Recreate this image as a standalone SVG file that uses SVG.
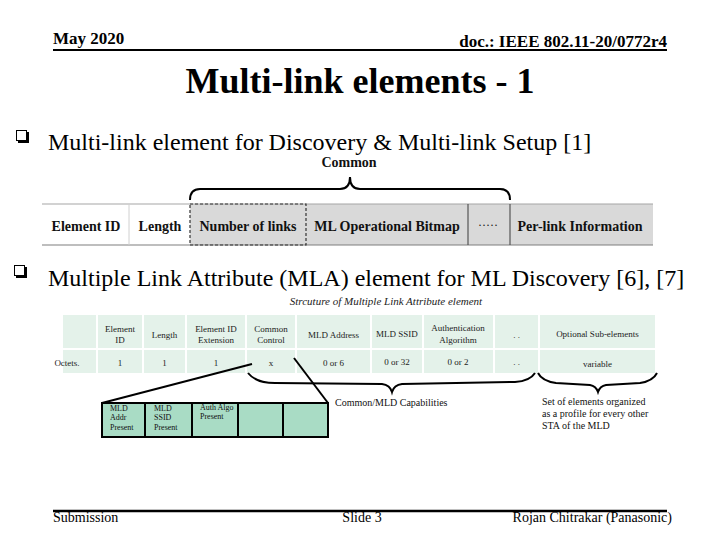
<svg xmlns="http://www.w3.org/2000/svg" width="720" height="540" viewBox="0 0 720 540">
<style>
.hdr{font-family:"Liberation Serif","Times New Roman",serif;font-weight:bold;font-size:17px;fill:#000}
.ttl{font-family:"Liberation Serif","Times New Roman",serif;font-weight:bold;font-size:36px;fill:#000}
.bul{font-family:"Liberation Serif","Times New Roman",serif;font-size:24px;fill:#000}
.t1{font-family:"Liberation Serif","Times New Roman",serif;font-weight:bold;font-size:14px;fill:#111;text-anchor:middle}
.t2{font-family:"Liberation Serif","Times New Roman",serif;font-size:9px;fill:#222;text-anchor:middle}
.sb{font-family:"Liberation Serif","Times New Roman",serif;font-size:8px;fill:#111}
.lbl{font-family:"Liberation Serif","Times New Roman",serif;font-size:10px;fill:#111}
.cap{font-family:"Liberation Serif","Times New Roman",serif;font-style:italic;font-size:11px;fill:#222}
.ftr{font-family:"Liberation Serif","Times New Roman",serif;font-size:14px;fill:#000}
.cmn{font-family:"Liberation Serif","Times New Roman",serif;font-weight:bold;font-size:14px;fill:#111}
.c2{fill:#e4f2ea}
.gray{fill:#d9d9d9}
.sbox{fill:#a9dcc5;stroke:#000;stroke-width:2}
.conn{fill:none;stroke:#000;stroke-width:2}
</style>

<g id="header">
<text class="hdr" x="53" y="44">May 2020</text>
<text class="hdr" x="667" y="47" text-anchor="end">doc.: IEEE 802.11-20/0772r4</text>
<line x1="53" y1="50" x2="667" y2="50" stroke="#000" stroke-width="2"/>
</g>

<g id="title">
<text class="ttl" x="360" y="93" text-anchor="middle">Multi-link elements - 1</text>
</g>

<g id="bullet1">
<rect x="18" y="132" width="11" height="11" fill="#000"/>
<rect x="16.5" y="130.5" width="10" height="10" fill="#fff" stroke="#000" stroke-width="1"/>
<text class="bul" x="48" y="150">Multi-link element for Discovery &amp; Multi-link Setup [1]</text>
</g>

<g id="common-label">
<text class="cmn" x="349" y="167" text-anchor="middle">Common</text>
</g>

<g id="table1">
<rect x="42" y="204" width="148" height="41" fill="#fff"/>
<rect class="gray" x="190" y="204" width="463" height="41"/>
<line x1="42" y1="204" x2="653" y2="204" stroke="#a6a6a6" stroke-width="1.2"/>
<line x1="42" y1="245" x2="653" y2="245" stroke="#7f7f7f" stroke-width="1.2"/>
<line x1="129" y1="204" x2="129" y2="245" stroke="#d0d0d0" stroke-width="1"/>
<rect x="190" y="204" width="116" height="41" fill="none" stroke="#333" stroke-width="1.2" stroke-dasharray="3,2"/>
<line x1="468" y1="204" x2="468" y2="245" stroke="#555" stroke-width="1.2"/>
<line x1="510" y1="204" x2="510" y2="245" stroke="#555" stroke-width="1.2"/>
<g id="t1-element-id"><text class="t1" x="86" y="231">Element ID</text></g>
<g id="t1-length"><text class="t1" x="160" y="231">Length</text></g>
<g id="t1-number-of-links"><text class="t1" x="248" y="231">Number of links</text></g>
<g id="t1-ml-bitmap"><text class="t1" x="387" y="231">ML Operational Bitmap</text></g>
<g id="t1-dots"><text class="t1" x="488" y="229" style="font-weight:normal;font-size:12px">·····</text></g>
<g id="t1-per-link"><text class="t1" x="580" y="231">Per-link Information</text></g>
</g>

<g id="bullet2">
<rect x="16" y="267" width="11" height="11" fill="#000"/>
<rect x="14.5" y="265.5" width="10" height="10" fill="#fff" stroke="#000" stroke-width="1"/>
<text class="bul" x="48" y="286">Multiple Link Attribute (MLA) element for ML Discovery [6], [7]</text>
</g>

<g id="caption">
<text class="cap" x="386" y="305" text-anchor="middle">Strcuture of Multiple Link Attribute element</text>
</g>

<g id="table2">
<g id="t2-c0"><rect class="c2" x="63" y="315" width="33" height="33"/><rect class="c2" x="63" y="350" width="33" height="23"/><text class="t2" x="67" y="366" text-anchor="start">Octets.</text></g>
<g id="t2-c1"><rect class="c2" x="98" y="315" width="44" height="33"/><rect class="c2" x="98" y="350" width="44" height="23"/><text class="t2" x="120" y="332">Element</text><text class="t2" x="120" y="343">ID</text><text class="t2" x="120" y="366">1</text></g>
<g id="t2-c2"><rect class="c2" x="144" y="315" width="41" height="33"/><rect class="c2" x="144" y="350" width="41" height="23"/><text class="t2" x="164.5" y="338">Length</text><text class="t2" x="164.5" y="366">1</text></g>
<g id="t2-c3"><rect class="c2" x="187" y="315" width="58" height="33"/><rect class="c2" x="187" y="350" width="58" height="23"/><text class="t2" x="216" y="332">Element ID</text><text class="t2" x="216" y="343">Extension</text><text class="t2" x="216" y="366">1</text></g>
<g id="t2-c4"><rect class="c2" x="247" y="315" width="48" height="33"/><rect class="c2" x="247" y="350" width="48" height="23"/><text class="t2" x="271" y="332">Common</text><text class="t2" x="271" y="343">Control</text><text class="t2" x="271" y="366">x</text></g>
<g id="t2-c5"><rect class="c2" x="297" y="315" width="73" height="33"/><rect class="c2" x="297" y="350" width="73" height="23"/><text class="t2" x="333.5" y="338">MLD Address</text><text class="t2" x="333.5" y="366">0 or 6</text></g>
<g id="t2-c6"><rect class="c2" x="372" y="315" width="50" height="33"/><rect class="c2" x="372" y="350" width="50" height="23"/><text class="t2" x="397" y="337">MLD SSID</text><text class="t2" x="397" y="365">0 or 32</text></g>
<g id="t2-c7"><rect class="c2" x="424" y="315" width="69" height="33"/><rect class="c2" x="424" y="350" width="69" height="23"/><text class="t2" x="458" y="331">Authentication</text><text class="t2" x="458" y="343">Algorithm</text><text class="t2" x="458" y="365">0 or 2</text></g>
<g id="t2-c8"><rect class="c2" x="495" y="315" width="43" height="33"/><rect class="c2" x="495" y="350" width="43" height="23"/><text class="t2" x="516.5" y="338">. .</text><text class="t2" x="516.5" y="365">. .</text></g>
<g id="t2-c9"><rect class="c2" x="540" y="315" width="115" height="33"/><rect class="c2" x="540" y="350" width="115" height="23"/><text class="t2" x="597.5" y="337">Optional Sub-elements</text><text class="t2" x="597.5" y="367">variable</text></g>
</g>

<g id="common-control-bits">
<rect class="sbox" x="102" y="403" width="43" height="34"/>
<rect class="sbox" x="145" y="403" width="47" height="34"/>
<rect class="sbox" x="192" y="403" width="46" height="34"/>
<rect class="sbox" x="238" y="403" width="45" height="34"/>
<rect class="sbox" x="283" y="403" width="45" height="34"/>
<text class="sb" x="110" y="411">MLD</text><text class="sb" x="110" y="420">Addr</text><text class="sb" x="110" y="430">Present</text>
<text class="sb" x="154" y="411">MLD</text><text class="sb" x="154" y="420">SSID</text><text class="sb" x="154" y="430">Present</text>
<text class="sb" x="200" y="410">Auth Algo</text><text class="sb" x="200" y="419">Present</text>
</g>

<g id="connectors">
<path class="conn" d="M190,200 Q190,189 200,189 L340,189 Q350,189 350,177 Q350,189 360,189 L500,189 Q510,189 510,200" stroke="#333" stroke-width="1.3"/>
<line class="conn" x1="252" y1="364" x2="102" y2="403"/>
<line class="conn" x1="294" y1="358" x2="328" y2="403"/>
<path class="conn" d="M248,373 Q256,383 275,383 L382,384 Q390,385 392,392 Q394,385 402,384 L515,382 Q530,381 535,373"/>
<path class="conn" d="M538,373 Q542,381 556,383 L590,385 Q596,386 598,392 Q600,386 606,385 L640,383 Q653,381 657,373"/>
</g>

<g id="labels">
<text class="lbl" x="335" y="406">Common/MLD Capabilities</text>
<text class="lbl" x="542" y="405">Set of elements organized</text>
<text class="lbl" x="542" y="417">as a profile for every other</text>
<text class="lbl" x="542" y="429">STA of the MLD</text>
</g>

<g id="footer">
<line x1="53" y1="511" x2="667" y2="511" stroke="#000" stroke-width="2.5"/>
<text class="ftr" x="53" y="522">Submission</text>
<text class="ftr" x="362" y="522" text-anchor="middle">Slide 3</text>
<text class="ftr" x="672" y="522" text-anchor="end">Rojan Chitrakar (Panasonic)</text>
</g>
</svg>
